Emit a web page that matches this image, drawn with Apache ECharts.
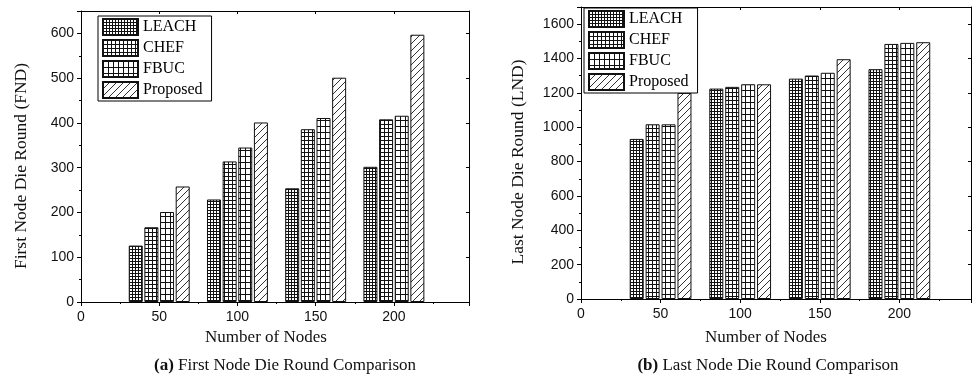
<!DOCTYPE html>
<html>
<head>
<meta charset="utf-8">
<style>
  html, body { margin: 0; padding: 0; background: #fff; }
  #chart { width: 973px; height: 377px; }
</style>
<script src="https://cdn.jsdelivr.net/npm/echarts@6/dist/echarts.min.js"></script>
</head>
<body>
<div id="chart"></div>
<script>
// Node counts on the x axis and the four protocols compared
const nodeCounts = [50, 100, 150, 200];
const protocols = ['LEACH', 'CHEF', 'FBUC', 'Proposed'];

// First node die round (FND)
const fndLEACH = [126, 229, 254, 302];
const fndCHEF = [167, 314, 386, 408];
const fndFBUC = [201, 345, 411, 416];
const fndProposed = [258, 401, 501, 597];

// Last node die round (LND)
const lndLEACH = [932, 1225, 1283, 1338];
const lndCHEF = [1017, 1235, 1301, 1485];
const lndFBUC = [1017, 1250, 1317, 1491];
const lndProposed = [1200, 1250, 1396, 1495];

// Tick values of both axes
const xTicks = [0, 50, 100, 150, 200];
const fndTicks = [0, 100, 200, 300, 400, 500, 600];
const lndTicks = [0, 200, 400, 600, 800, 1000, 1200, 1400, 1600];

// Fill patterns: fine grid, medium grid, coarse grid, diagonal hatch
function gridTile(w, h) {
  const c = document.createElement('canvas');
  c.width = w; c.height = h;
  const g = c.getContext('2d');
  g.fillStyle = '#fff'; g.fillRect(0, 0, w, h);
  g.fillStyle = '#111';
  g.fillRect(0, 0, w, 1);
  g.fillRect(0, 0, 1, h);
  return c;
}
function hatchTile(s) {
  const c = document.createElement('canvas');
  c.width = s; c.height = s;
  const g = c.getContext('2d');
  g.fillStyle = '#fff'; g.fillRect(0, 0, s, s);
  g.strokeStyle = '#333'; g.lineWidth = 1;
  g.beginPath();
  g.moveTo(0, s); g.lineTo(s, 0);
  g.moveTo(-1, 1); g.lineTo(1, -1);
  g.moveTo(s - 1, s + 1); g.lineTo(s + 1, s - 1);
  g.stroke();
  return c;
}
const fills = [
  { image: gridTile(3, 3), repeat: 'repeat' },
  { image: gridTile(4, 4), repeat: 'repeat' },
  { image: gridTile(5, 6), repeat: 'repeat' },
  { image: hatchTile(7), repeat: 'repeat' }
];

// Each protocol's bar sits at a fixed offset around its node count
const groupOffsets = [-15, -5, 5, 15];

const tickFont = { fontFamily: 'Liberation Sans', fontSize: 14, color: '#111' };
const serif = 'Liberation Serif';

function axesFor(gridIndex, xMax, yMax, yStep, yTicks) {
  const line = { show: true, onZero: false, lineStyle: { color: '#000', width: 1 } };
  return {
    x: [
      { type: 'value', gridIndex, min: 0, max: xMax, interval: 50, position: 'bottom',
        axisLine: line, axisTick: { show: true, inside: false, length: 4, lineStyle: { color: '#000' } },
        minorTick: { show: true, splitNumber: 2, length: 2, lineStyle: { color: '#000' } },
        axisLabel: Object.assign({ margin: 8, showMaxLabel: false,
          formatter: v => xTicks.includes(v) ? String(v) : '' }, tickFont),
        splitLine: { show: false } },
      { type: 'value', gridIndex, min: 0, max: xMax, interval: 50, position: 'top',
        axisLine: line, axisTick: { show: true, inside: true, length: 3, lineStyle: { color: '#000' } },
        axisLabel: { show: false }, splitLine: { show: false } }
    ],
    y: [
      { type: 'value', gridIndex, min: 0, max: yMax, interval: yStep, position: 'left',
        axisLine: line, axisTick: { show: true, inside: false, length: 4, lineStyle: { color: '#000' } },
        minorTick: { show: true, splitNumber: 2, length: 2, lineStyle: { color: '#000' } },
        axisLabel: Object.assign({ margin: 7, showMaxLabel: false,
          formatter: v => yTicks.includes(v) ? String(v) : '' }, tickFont),
        splitLine: { show: false } },
      { type: 'value', gridIndex, min: 0, max: yMax, interval: yStep, position: 'right',
        axisLine: line, axisTick: { show: true, inside: true, length: 3, lineStyle: { color: '#000' } },
        axisLabel: { show: false }, splitLine: { show: false } }
    ]
  };
}

const left = axesFor(0, 248, 650, 100, fndTicks);
const right = axesFor(1, 245, 1700, 200, lndTicks);

function barSeries(values, i, axisBase) {
  return {
    type: 'bar',
    name: protocols[i],
    xAxisIndex: axisBase,
    yAxisIndex: axisBase,
    barWidth: 14,
    barGap: '-100%',
    itemStyle: { color: fills[i], borderColor: '#111', borderWidth: 1 },
    emphasis: { disabled: true },
    data: values.map((v, j) => [nodeCounts[j] + groupOffsets[i], v])
  };
}

const fndSets = [fndLEACH, fndCHEF, fndFBUC, fndProposed];
const lndSets = [lndLEACH, lndCHEF, lndFBUC, lndProposed];

const legendBase = {
  orient: 'vertical',
  icon: 'rect',
  itemWidth: 35, itemHeight: 16, itemGap: 3,
  padding: [2, 9, 2, 4],
  borderColor: '#000', borderWidth: 1,
  backgroundColor: '#fff',
  selectedMode: false,
  textStyle: { fontFamily: serif, fontSize: 16, color: '#000' },
  data: protocols
};

const option = {
  animation: false,
  backgroundColor: '#fff',
  grid: [
    { left: 81, top: 11, width: 388, height: 291 },
    { left: 581, top: 7, width: 390, height: 292 }
  ],
  xAxis: left.x.concat(right.x),
  yAxis: left.y.concat(right.y),
  legend: [
    Object.assign({ left: 98, top: 16 }, legendBase),
    Object.assign({ left: 584, top: 8 }, legendBase)
  ],
  series: fndSets.map((v, i) => barSeries(v, i, 0))
    .concat(lndSets.map((v, i) => barSeries(v, i, 2))),
  graphic: [
    { type: 'text', x: 266, y: 338, style: { text: 'Number of Nodes', font: '17px "Liberation Serif"', fill: '#111', align: 'center', verticalAlign: 'middle' } },
    { type: 'text', x: 766, y: 338, style: { text: 'Number of Nodes', font: '17px "Liberation Serif"', fill: '#111', align: 'center', verticalAlign: 'middle' } },
    { type: 'text', x: 21, y: 166, rotation: Math.PI / 2, style: { text: 'First Node Die Round (FND)', font: '17.5px "Liberation Serif"', fill: '#111', align: 'center', verticalAlign: 'middle' } },
    { type: 'text', x: 518, y: 162, rotation: Math.PI / 2, style: { text: 'Last Node Die Round (LND)', font: '17.5px "Liberation Serif"', fill: '#111', align: 'center', verticalAlign: 'middle' } },
    { type: 'text', x: 285, y: 366, style: { text: '{b|(a)} First Node Die Round Comparison', fill: '#111', align: 'center', verticalAlign: 'middle',
        rich: { b: { fontFamily: serif, fontSize: 17, fontWeight: 'bold', fill: '#111' } }, font: '17px "Liberation Serif"' } },
    { type: 'text', x: 768, y: 366, style: { text: '{b|(b)} Last Node Die Round Comparison', fill: '#111', align: 'center', verticalAlign: 'middle',
        rich: { b: { fontFamily: serif, fontSize: 17, fontWeight: 'bold', fill: '#111' } }, font: '17px "Liberation Serif"' } }
  ]
};

const chart = echarts.init(document.getElementById('chart'), null, { renderer: 'canvas' });
chart.setOption(option);
</script>
</body>
</html>
